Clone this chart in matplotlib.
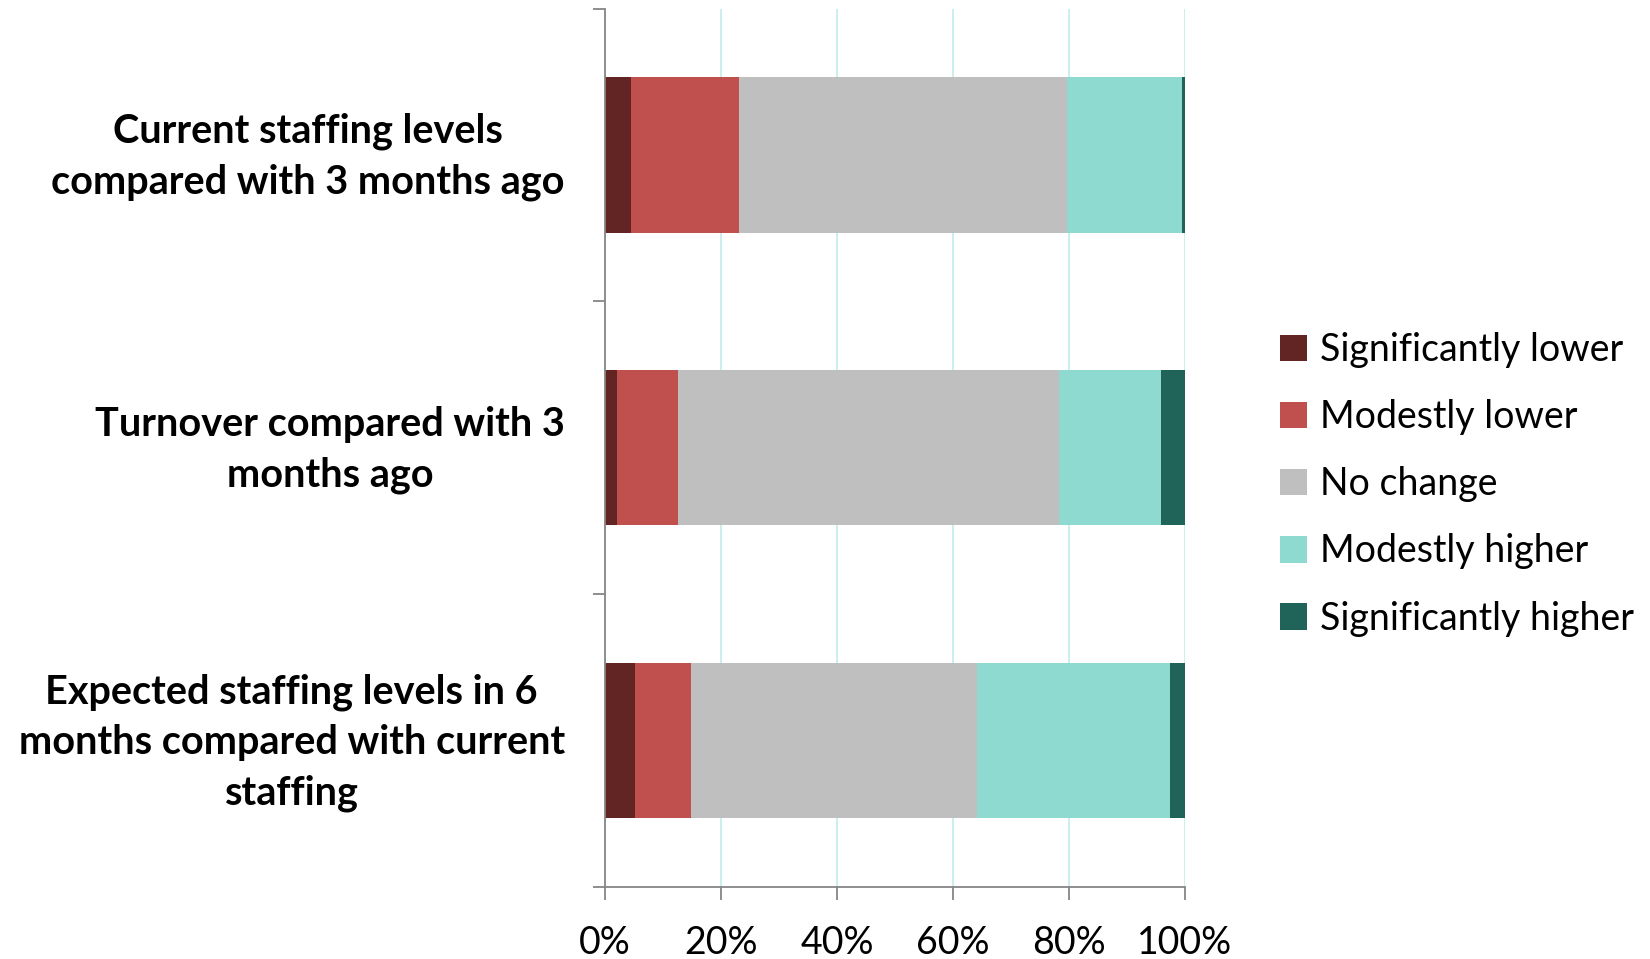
import numpy as np
import matplotlib.pyplot as plt
from matplotlib.ticker import FixedLocator, PercentFormatter
from matplotlib.transforms import ScaledTranslation

categories = [
    "Current staffing levels\ncompared with 3 months ago",
    "Turnover compared with 3\nmonths ago",
    "Expected staffing levels in 6\nmonths compared with current\nstaffing",
]
responses = ["Significantly lower", "Modestly lower", "No change",
             "Modestly higher", "Significantly higher"]

sig_lower = [4.5, 2.0, 5.2]
mod_lower = [18.6, 10.6, 9.7]
no_change = [56.5, 65.6, 49.3]
mod_higher = [19.8, 17.7, 33.2]
sig_higher = [0.6, 4.1, 2.6]

colors = ["#632523", "#C0504D", "#BFBFBF", "#8FDAD0", "#206359"]

plt.rcParams['font.family'] = ['Lato', 'DejaVu Sans']

fig = plt.figure(figsize=(16.5, 9.59), dpi=100)
ax = fig.add_axes([0.3667, 0.075, 0.3515, 0.916])

y = np.arange(len(categories))
left = np.zeros(len(categories))
for name, vals, c in zip(responses, [sig_lower, mod_lower, no_change, mod_higher, sig_higher], colors):
    ax.barh(y, vals, left=left, height=0.53, color=c, label=name, linewidth=0, zorder=2)
    left += np.array(vals)

ax.set_xlim(0, 100)
ax.set_ylim(2.5, -0.5)

# light teal vertical gridlines
ax.set_xticks(np.arange(0, 101, 20))
ax.xaxis.set_major_formatter(PercentFormatter(decimals=0))
ax.grid(axis='x', color='#C6EEEA', linewidth=1.3, zorder=0)

ax.set_yticks(y)
ax.set_yticklabels(categories, fontsize=28.5, fontweight='bold',
                   multialignment='center', linespacing=1.45)
ax.yaxis.set_minor_locator(FixedLocator([-0.5, 0.5, 1.5, 2.5]))
ax.tick_params(axis='y', which='major', length=0, pad=29)
ax.tick_params(axis='y', which='minor', length=9, color='#868686', width=1.3)
ax.tick_params(axis='x', length=9, color='#868686', width=1.3, labelsize=27, pad=18)

# nudge category labels up so they sit level with the bar centres
shift = ScaledTranslation(0, 6 / 72, fig.dpi_scale_trans)
for lab in ax.get_yticklabels():
    lab.set_transform(lab.get_transform() + shift)

for s in ['top', 'right']:
    ax.spines[s].set_visible(False)
for s in ['left', 'bottom']:
    ax.spines[s].set_color('#868686')
    ax.spines[s].set_linewidth(1.3)

fig.legend(loc='center left', bbox_to_anchor=(0.7757, 0.495), frameon=False,
           fontsize=27, handlelength=0.71, handleheight=0.71, handletextpad=0.35,
           labelspacing=0.83, borderaxespad=0, borderpad=0)

fig.savefig('out.png', dpi=100)
